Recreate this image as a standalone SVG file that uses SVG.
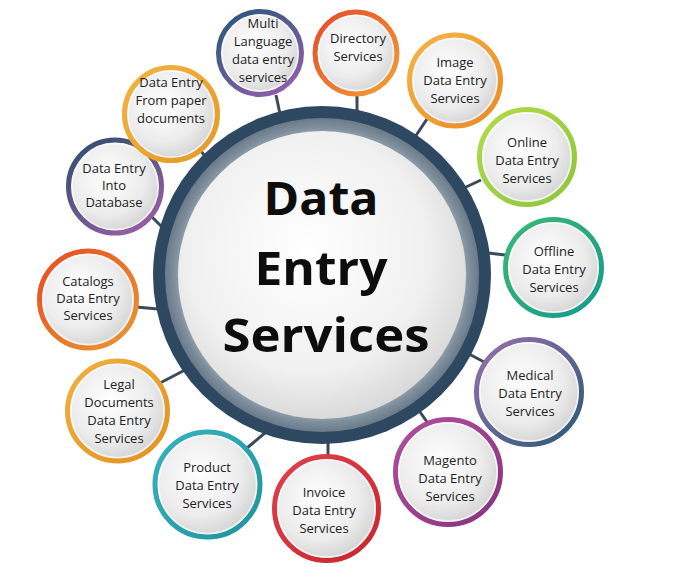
<svg xmlns="http://www.w3.org/2000/svg" width="680" height="567" viewBox="0 0 680 567">
<defs>
<style>
.t{font-family:"Open Sans","Liberation Sans",sans-serif;font-size:13px;fill:#222;text-anchor:middle}
.big{font-family:"Open Sans","Liberation Sans",sans-serif;font-size:47px;font-weight:700;fill:#0d0d0d;text-anchor:middle}
.cn{stroke:#3a4a5a;stroke-width:3;fill:none}
.in{fill:url(#fillG)}
.hl{fill:none;stroke:#ffffff;stroke-opacity:0.7;stroke-width:1.5}
</style>
<radialGradient id="fillG" cx="0.42" cy="0.4" r="0.62">
<stop offset="0" stop-color="#ffffff"/>
<stop offset="0.65" stop-color="#ececec"/>
<stop offset="1" stop-color="#d2d2d2"/>
</radialGradient>
<radialGradient id="mainFill" cx="0.45" cy="0.42" r="0.6">
<stop offset="0" stop-color="#ffffff"/>
<stop offset="0.7" stop-color="#f0f0f0"/>
<stop offset="1" stop-color="#d8d8d8"/>
</radialGradient>
<radialGradient id="grayRing" gradientUnits="userSpaceOnUse" cx="322" cy="275" r="157">
<stop offset="0.9" stop-color="#97a4b0"/>
<stop offset="0.94" stop-color="#808f9d"/>
<stop offset="1" stop-color="#6a7a8a"/>
</radialGradient>
<linearGradient id="gMulti" x1="0" y1="0" x2="0.7" y2="1"><stop offset="0" stop-color="#24587a"/><stop offset="1" stop-color="#8c5ea8"/></linearGradient>
<linearGradient id="gDir" x1="0" y1="0" x2="1" y2="1"><stop offset="0" stop-color="#e5492a"/><stop offset="1" stop-color="#f3a032"/></linearGradient>
<linearGradient id="gImg" x1="0" y1="0" x2="1" y2="1"><stop offset="0" stop-color="#f5b548"/><stop offset="1" stop-color="#e98a22"/></linearGradient>
<linearGradient id="gOnl" x1="0" y1="0" x2="1" y2="1"><stop offset="0" stop-color="#b4d94a"/><stop offset="1" stop-color="#8cc63a"/></linearGradient>
<linearGradient id="gOff" x1="0" y1="0" x2="1" y2="1"><stop offset="0" stop-color="#3cb874"/><stop offset="1" stop-color="#149a8e"/></linearGradient>
<linearGradient id="gMed" x1="0" y1="0" x2="1" y2="1"><stop offset="0" stop-color="#9a70ae"/><stop offset="1" stop-color="#285a76"/></linearGradient>
<linearGradient id="gMag" x1="0" y1="0" x2="1" y2="1"><stop offset="0" stop-color="#b24ea0"/><stop offset="1" stop-color="#87327f"/></linearGradient>
<linearGradient id="gInv" x1="0" y1="0" x2="1" y2="1"><stop offset="0" stop-color="#e0414a"/><stop offset="1" stop-color="#c9262f"/></linearGradient>
<linearGradient id="gPro" x1="0" y1="0" x2="1" y2="1"><stop offset="0" stop-color="#36b3bf"/><stop offset="1" stop-color="#1f939d"/></linearGradient>
<linearGradient id="gLeg" x1="0" y1="0" x2="1" y2="1"><stop offset="0" stop-color="#f0b040"/><stop offset="1" stop-color="#e2921f"/></linearGradient>
<linearGradient id="gCat" x1="0" y1="0" x2="1" y2="1"><stop offset="0" stop-color="#e84a22"/><stop offset="1" stop-color="#e99a30"/></linearGradient>
<linearGradient id="gDb" x1="0" y1="0" x2="0.7" y2="1"><stop offset="0" stop-color="#2a4e6c"/><stop offset="1" stop-color="#935fa2"/></linearGradient>
<linearGradient id="gPap" x1="0" y1="0" x2="1" y2="1"><stop offset="0" stop-color="#f2b440"/><stop offset="1" stop-color="#e39a24"/></linearGradient>
</defs>
<rect width="680" height="567" fill="#ffffff"/>

<g id="connectors">
<line class="cn" x1="276" y1="95" x2="280" y2="114"/>
<line class="cn" x1="357" y1="94" x2="357" y2="112"/>
<line class="cn" x1="427" y1="119" x2="415" y2="137"/>
<line class="cn" x1="481" y1="180" x2="464" y2="188"/>
<line class="cn" x1="505" y1="255" x2="488" y2="253"/>
<line class="cn" x1="486" y1="363" x2="469" y2="354"/>
<line class="cn" x1="427" y1="422" x2="418" y2="409"/>
<line class="cn" x1="328" y1="456" x2="328" y2="442"/>
<line class="cn" x1="247" y1="448" x2="266" y2="432"/>
<line class="cn" x1="160" y1="383" x2="185" y2="370"/>
<line class="cn" x1="136" y1="307" x2="158" y2="309"/>
<line class="cn" x1="151" y1="216" x2="163" y2="228"/>
<line class="cn" x1="194" y1="143" x2="205" y2="156"/>
</g>

<g id="center">
<circle cx="322" cy="275" r="169" fill="#2e4862"/>
<circle cx="322" cy="275" r="157" fill="url(#grayRing)"/>
<circle cx="322" cy="275" r="144" fill="url(#mainFill)"/>
<text class="big" x="321" y="215" textLength="115" lengthAdjust="spacingAndGlyphs">Data</text>
<text class="big" x="321" y="285" textLength="133" lengthAdjust="spacingAndGlyphs">Entry</text>
<text class="big" x="326" y="352" textLength="207" lengthAdjust="spacingAndGlyphs">Services</text>
</g>

<g id="n-multi">
<circle cx="260" cy="53" r="41.5" class="in" stroke="url(#gMulti)" stroke-width="5"/>
<circle cx="260" cy="53" r="38" class="hl"/>
<text class="t" x="263" y="28">Multi</text>
<text class="t" x="263" y="46">Language</text>
<text class="t" x="263" y="64">data entry</text>
<text class="t" x="263" y="82">services</text>
</g>

<g id="n-directory">
<circle cx="356" cy="53" r="41" class="in" stroke="url(#gDir)" stroke-width="5"/>
<circle cx="356" cy="53" r="37.5" class="hl"/>
<text class="t" x="358" y="43">Directory</text>
<text class="t" x="358" y="61">Services</text>
</g>

<g id="n-image">
<circle cx="455" cy="80.5" r="45.5" class="in" stroke="url(#gImg)" stroke-width="5"/>
<circle cx="455" cy="80.5" r="42" class="hl"/>
<text class="t" x="455" y="67">Image</text>
<text class="t" x="455" y="85">Data Entry</text>
<text class="t" x="455" y="103">Services</text>
</g>

<g id="n-online">
<circle cx="527" cy="157" r="47.5" class="in" stroke="url(#gOnl)" stroke-width="5"/>
<circle cx="527" cy="157" r="44" class="hl"/>
<text class="t" x="527" y="147">Online</text>
<text class="t" x="527" y="165">Data Entry</text>
<text class="t" x="527" y="183">Services</text>
</g>

<g id="n-offline">
<circle cx="553.5" cy="267.5" r="48" class="in" stroke="url(#gOff)" stroke-width="5"/>
<circle cx="553.5" cy="267.5" r="44.5" class="hl"/>
<text class="t" x="554" y="256">Offline</text>
<text class="t" x="554" y="274">Data Entry</text>
<text class="t" x="554" y="292">Services</text>
</g>

<g id="n-medical">
<circle cx="529" cy="392" r="52.5" class="in" stroke="url(#gMed)" stroke-width="5"/>
<circle cx="529" cy="392" r="49" class="hl"/>
<text class="t" x="530" y="380">Medical</text>
<text class="t" x="530" y="398">Data Entry</text>
<text class="t" x="530" y="416">Services</text>
</g>

<g id="n-magento">
<circle cx="448" cy="472" r="52.5" class="in" stroke="url(#gMag)" stroke-width="5"/>
<circle cx="448" cy="472" r="49" class="hl"/>
<text class="t" x="450" y="465">Magento</text>
<text class="t" x="450" y="483">Data Entry</text>
<text class="t" x="450" y="501">Services</text>
</g>

<g id="n-invoice">
<circle cx="326.5" cy="508.5" r="52" class="in" stroke="url(#gInv)" stroke-width="5"/>
<circle cx="326.5" cy="508.5" r="48.5" class="hl"/>
<text class="t" x="324" y="497">Invoice</text>
<text class="t" x="324" y="515">Data Entry</text>
<text class="t" x="324" y="533">Services</text>
</g>

<g id="n-product">
<circle cx="207.5" cy="484.5" r="52.5" class="in" stroke="url(#gPro)" stroke-width="5"/>
<circle cx="207.5" cy="484.5" r="49" class="hl"/>
<text class="t" x="207" y="472">Product</text>
<text class="t" x="207" y="490">Data Entry</text>
<text class="t" x="207" y="508">Services</text>
</g>

<g id="n-legal">
<circle cx="117.5" cy="411" r="50" class="in" stroke="url(#gLeg)" stroke-width="5"/>
<circle cx="117.5" cy="411" r="46.5" class="hl"/>
<text class="t" x="119" y="389">Legal</text>
<text class="t" x="119" y="407">Documents</text>
<text class="t" x="119" y="425">Data Entry</text>
<text class="t" x="119" y="443">Services</text>
</g>

<g id="n-catalogs">
<circle cx="88" cy="299.5" r="48.5" class="in" stroke="url(#gCat)" stroke-width="5"/>
<circle cx="88" cy="299.5" r="45" class="hl"/>
<text class="t" x="88" y="286">Catalogs</text>
<text class="t" x="88" y="303">Data Entry</text>
<text class="t" x="88" y="320">Services</text>
</g>

<g id="n-database">
<circle cx="115" cy="186.5" r="46.5" class="in" stroke="url(#gDb)" stroke-width="5"/>
<circle cx="115" cy="186.5" r="43" class="hl"/>
<text class="t" x="114" y="173">Data Entry</text>
<text class="t" x="114" y="190">Into</text>
<text class="t" x="114" y="207">Database</text>
</g>

<g id="n-paper">
<circle cx="171" cy="114" r="46.5" class="in" stroke="url(#gPap)" stroke-width="5"/>
<circle cx="171" cy="114" r="43" class="hl"/>
<text class="t" x="171" y="87">Data Entry</text>
<text class="t" x="171" y="105">From paper</text>
<text class="t" x="171" y="123">documents</text>
</g>
</svg>
